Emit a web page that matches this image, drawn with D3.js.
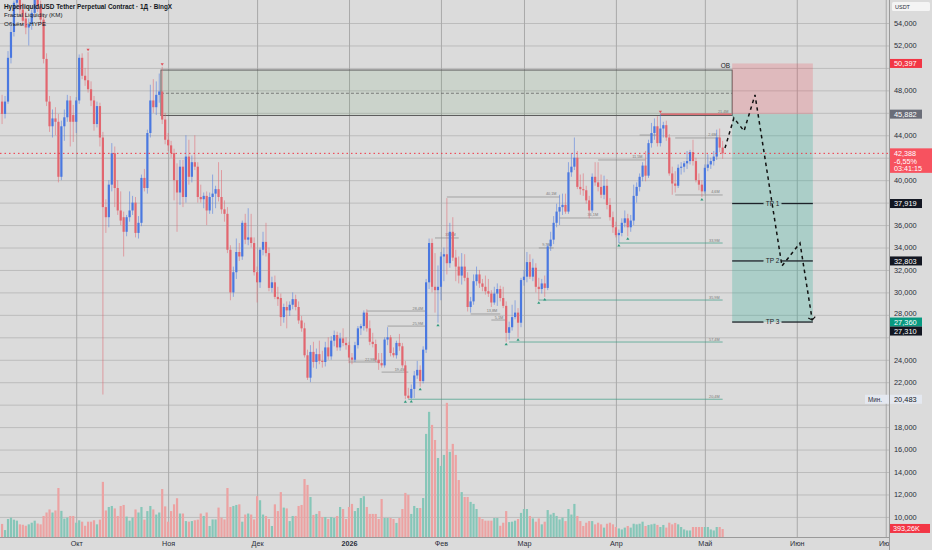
<!DOCTYPE html>
<html>
<head>
<meta charset="utf-8">
<script src="https://cdn.jsdelivr.net/npm/d3@7"></script>
<style>
  body { margin: 0; background: #dbdbdb; }
  svg { display: block; font-family: "Liberation Sans", Arial, sans-serif; }
</style>
</head>
<body>
<script>
// daily candles, prices in thousands USDT, volume in millions: [open, high, low, close, volume]
var sepCandles = [ // from 2025-09-06
  [47.0,47.6,45.0,45.9,0.64],[45.9,47.5,45.5,47.0,0.34],[47.0,51.5,46.8,50.9,0.88],[50.9,53.9,50.4,53.2,0.95],
  [53.2,56.0,52.8,55.8,0.85],[55.8,57.2,55.2,56.5,0.8],[56.5,57.0,54.8,55.2,0.62],[55.2,55.8,53.8,54.2,0.6],
  [54.4,55.0,53.0,53.6,0.55],[53.6,54.4,52.0,53.9,0.62],[53.9,55.2,53.4,54.9,0.7],[54.9,56.8,54.5,56.3,0.8],
  [56.3,57.0,55.0,55.5,0.66],[55.5,56.0,53.9,54.3,0.62],[54.3,54.8,50.4,50.8,1.03],[50.8,51.3,46.6,47.0,1.2],
  [47.0,47.5,44.3,44.8,1.35],[44.8,46.3,43.8,45.5,1.2],[45.5,46.5,44.0,45.2,1.3],[45.2,45.9,39.8,40.3,2.4],
  [40.3,45.3,40.0,44.8,1.28],[44.8,46.3,43.5,45.6,0.9],[45.6,47.6,45.2,47.1,0.95],[47.1,47.5,43.0,45.2,1.03],
  [45.8,46.7,43.4,45.2,1.03]
];
var octCandles = [
  [45.2,47.4,44.2,47.1,0.7],[47.1,51.2,46.8,50.9,0.82],[50.9,51.3,49.0,49.3,0.75],[49.3,50.0,48.4,48.9,0.55],
  [48.9,51.4,47.8,48.1,0.75],[48.1,48.8,46.6,47.1,0.75],[47.1,47.5,44.4,45.0,0.82],[45.0,47.0,44.7,46.6,0.62],
  [46.6,46.9,43.0,43.8,0.85],[43.8,44.3,20.9,37.6,2.7],[37.6,38.3,35.3,36.7,1.3],[36.7,40.0,35.8,39.6,1.47],
  [39.6,43.3,39.0,42.4,1.52],[42.4,43.0,37.6,39.3,1.4],[39.3,40.0,36.9,37.3,1.03],[37.3,39.0,36.0,36.4,1.52],
  [36.7,37.2,33.2,35.4,1.57],[35.4,36.9,35.0,36.7,1.0],[36.7,39.0,36.3,37.3,0.8],[37.3,38.6,36.9,38.0,0.95],
  [38.0,38.5,34.9,35.3,1.35],[35.3,36.8,34.8,36.2,1.2],[36.2,40.5,35.9,40.2,1.47],[40.2,41.0,39.0,39.3,0.85],
  [39.3,44.5,38.8,44.2,1.27],[44.2,48.5,43.8,47.1,1.52],[47.1,49.0,46.0,46.5,1.35],[46.5,48.8,45.8,47.6,1.1],
  [47.6,49.5,46.9,47.9,1.2],[47.9,50.1,45.0,45.4,2.35],[45.4,46.0,43.2,43.6,1.5]
];
var novCandles = [
  [43.6,44.2,42.6,43.1,0.75],[43.1,43.5,42.0,42.4,1.27],[42.4,42.8,38.2,40.0,1.6],[40.0,41.5,35.4,38.9,1.9],
  [38.9,41.8,37.8,41.2,1.15],[41.2,41.8,37.6,38.5,1.15],[38.5,44.0,38.0,42.1,0.78],[42.1,43.6,39.6,40.3,0.75],
  [40.3,42.2,39.8,41.6,0.78],[41.6,44.0,40.9,41.2,0.82],[41.2,41.6,38.0,38.5,0.85],[38.5,39.6,38.0,38.3,1.15],
  [38.3,38.9,37.5,38.6,1.03],[38.6,39.0,36.0,37.3,1.2],[37.3,38.9,37.0,38.5,0.54],[38.5,40.5,37.0,38.8,0.86],
  [38.8,39.5,37.5,39.2,0.86],[39.2,41.6,38.1,38.5,1.44],[38.5,40.9,37.0,37.4,0.95],[37.4,38.2,36.3,37.0,0.86],
  [37.0,37.6,33.5,33.8,2.4],[33.8,34.2,29.3,30.0,1.47],[30.0,32.3,29.6,31.8,1.52],[31.8,34.8,31.2,33.6,1.57],
  [33.6,34.4,32.8,33.2,1.6],[33.2,36.4,32.9,36.2,0.75],[36.2,37.0,34.3,34.7,1.1],[34.7,37.5,34.2,34.9,1.15],
  [34.9,37.0,34.0,34.4,1.1],[34.4,34.9,31.5,31.8,0.86]
];
var decCandles = [
  [31.8,32.3,29.1,30.9,2.0],[30.9,34.0,30.4,33.8,1.8],[33.8,35.4,33.3,34.5,1.1],[34.5,36.2,33.2,33.5,1.03],
  [33.5,34.0,30.1,30.4,0.88],[30.4,31.4,30.0,30.9,0.54],[30.9,31.5,29.4,29.6,1.6],[29.6,30.5,28.8,29.4,1.27],
  [29.5,29.9,27.0,27.8,2.2],[27.8,29.0,27.3,28.7,1.44],[28.7,29.2,26.8,28.4,1.4],[28.4,29.2,27.9,28.9,0.78],
  [28.9,30.0,28.5,29.4,1.03],[29.4,29.8,28.4,28.7,1.03],[28.7,29.2,27.2,27.5,1.52],[27.5,27.9,26.5,26.8,1.57],
  [26.8,27.3,24.2,24.4,2.84],[24.4,24.9,22.2,22.4,2.55],[22.4,25.3,22.0,24.7,1.96],[24.7,25.6,23.3,23.8,1.08],
  [23.8,25.0,23.2,24.5,1.13],[24.5,25.7,23.6,23.9,1.27],[23.9,24.8,23.3,23.8,0.98],[23.8,25.6,23.4,25.1,0.98],
  [25.1,26.0,24.0,24.3,0.88],[24.3,26.1,24.0,25.7,0.98],[25.7,26.6,25.2,26.2,0.93],[26.2,26.5,24.8,25.1,1.03],
  [25.1,26.4,24.8,25.9,1.47],[25.9,26.8,25.2,25.5,1.37],[25.5,26.0,24.9,25.3,0.88]
];
var janCandles = [
  [25.3,25.6,23.7,24.2,1.47],[24.2,24.6,23.6,24.0,1.62],[24.0,25.6,23.8,25.3,1.27],[25.3,27.0,25.0,26.8,1.42],
  [26.8,27.2,26.2,27.0,1.91],[27.0,28.4,26.6,28.2,2.0],[28.2,28.5,26.5,26.8,1.47],[26.8,27.5,25.3,25.6,1.13],
  [25.6,26.4,25.1,25.4,1.13],[25.4,25.8,23.8,24.0,1.13],[24.0,24.6,23.1,23.7,0.88],[23.7,24.6,23.3,23.5,1.86],
  [23.5,26.0,23.3,25.8,0.93],[25.8,26.9,25.3,26.0,0.93],[26.0,26.2,24.3,24.6,0.93],[24.6,25.1,24.2,24.4,0.88],
  [24.4,25.7,24.1,25.5,0.69],[25.5,26.3,24.8,25.2,0.93],[25.2,25.5,23.3,23.5,1.37],[23.5,23.9,20.483,20.8,2.16],
  [20.8,21.5,20.5,20.6,2.06],[20.6,21.8,20.5,21.4,1.13],[21.4,23.0,20.6,22.6,1.52],[22.6,23.9,22.3,23.1,1.42],
  [23.1,23.5,21.6,22.1,1.42],[22.1,25.2,21.9,24.9,1.91],[24.9,31.2,24.6,30.9,5.05],[30.9,34.8,30.3,34.4,6.13],
  [34.4,34.8,30.0,30.5,5.49],[30.5,33.5,28.2,30.2,4.75],[30.2,32.4,27.3,30.5,3.87]
];
var febCandles = [
  [30.5,33.6,29.3,33.2,3.48],[33.2,34.0,31.0,33.4,4.02],[33.4,38.4,31.6,32.6,6.57],[32.6,36.2,32.2,35.4,4.17],
  [35.4,36.7,32.8,33.1,4.56],[33.1,33.8,31.0,32.3,4.02],[32.3,33.2,30.8,31.5,2.79],[31.5,33.5,30.7,32.3,2.2],
  [32.3,33.4,31.0,31.3,1.96],[31.3,31.8,28.3,28.7,1.96],[28.7,29.6,28.2,29.2,1.72],[29.2,31.6,28.9,31.0,1.62],
  [31.0,32.3,30.6,31.6,1.37],[31.6,32.0,30.4,30.8,0.98],[30.8,31.2,30.1,30.5,0.88],[30.5,31.5,29.8,30.1,0.8],
  [30.1,31.2,29.6,29.9,0.8],[29.9,30.2,28.7,29.1,0.8],[29.1,30.5,28.9,29.9,0.93],[29.9,30.8,28.8,30.3,0.93],
  [30.3,30.6,29.2,29.5,0.55],[29.5,30.5,28.6,28.8,0.7],[28.8,29.2,25.6,26.4,1.27],[26.4,27.4,25.8,26.9,0.73],
  [26.9,28.9,26.6,27.8,0.75],[27.8,29.3,27.6,28.2,0.8],[28.2,28.6,26.0,27.3,0.88],[27.3,31.3,26.9,31.1,1.18]
];
var marCandles = [
  [31.1,32.0,30.6,31.4,1.37],[31.4,33.6,30.9,32.7,1.37],[32.7,33.4,31.2,31.4,1.03],[31.4,33.0,31.0,32.2,0.91],
  [32.2,32.6,30.0,30.5,0.75],[30.5,31.3,29.3,30.3,0.91],[30.3,31.2,29.9,30.8,0.62],[30.8,31.5,29.6,30.4,0.75],
  [30.4,34.3,30.2,34.1,1.32],[34.1,35.4,33.7,34.7,1.1],[34.7,36.8,34.3,36.2,1.18],[36.2,37.9,35.8,37.2,1.03],
  [37.2,38.7,36.0,37.6,0.86],[37.6,38.8,36.9,37.8,0.95],[37.8,38.8,37.0,37.2,0.78],[37.2,41.6,37.0,40.7,1.37],
  [40.7,42.4,40.3,41.2,1.1],[41.2,43.8,40.9,42.0,1.62],[42.0,42.6,39.2,39.4,1.03],[39.4,40.5,38.7,39.2,0.78],
  [39.2,40.6,38.6,39.1,0.54],[39.1,39.5,37.9,38.2,0.7],[38.2,38.6,36.6,37.3,0.78],[37.3,40.6,37.1,40.3,0.78],
  [40.3,41.6,39.5,39.8,0.62],[39.8,41.6,39.0,39.4,0.7],[39.4,40.5,38.4,38.7,0.62],[38.7,40.4,38.3,39.5,0.46],
  [39.5,40.1,37.4,37.8,0.65],[37.8,38.4,36.4,36.7,0.7],[36.7,37.2,35.3,35.8,0.62]
];
var aprCandles = [
  [35.8,36.3,34.9,35.1,0.49],[35.1,35.6,34.4,35.3,0.42],[35.3,36.6,35.0,36.2,0.37],[36.2,37.3,35.8,36.6,0.46],
  [36.6,37.0,35.0,35.8,0.54],[35.8,36.9,35.4,36.4,0.46],[36.4,39.6,36.0,38.6,0.65],[38.6,39.8,38.0,39.4,0.62],
  [39.4,40.6,39.0,40.3,0.65],[40.3,41.6,39.9,41.3,0.75],[41.3,42.6,39.9,40.4,0.54],[40.4,43.6,40.2,43.3,0.59],
  [43.3,45.1,42.9,44.2,0.62],[44.2,45.5,43.6,44.8,0.65],[44.8,45.7,43.0,43.3,0.59],[43.3,45.882,43.0,44.6,0.49],
  [44.6,45.2,43.8,44.9,0.59],[44.9,45.3,43.5,43.8,0.46],[43.8,44.1,40.4,40.6,0.7],[40.6,41.2,38.7,39.7,0.62],
  [39.7,40.8,38.9,39.5,0.69],[39.5,41.4,39.3,41.1,0.62],[41.1,41.6,40.5,41.2,0.49],[41.2,41.7,40.7,41.5,0.37],
  [41.5,42.6,41.0,41.7,0.32],[41.7,42.7,41.4,42.5,0.32],[42.5,43.6,41.3,41.7,0.49],[41.7,42.0,39.8,40.0,0.49],
  [40.0,40.6,39.1,39.6,0.49],[39.6,40.0,38.5,39.0,0.49]
];
var mayCandles = [
  [39.0,41.4,38.8,41.1,0.49],[41.1,42.3,40.8,41.4,0.49],[41.4,42.0,41.0,41.7,0.37],[41.7,42.6,41.3,42.1,0.32],
  [42.1,44.5,41.8,43.8,0.49],[43.8,44.6,42.5,42.9,0.49],[42.9,43.5,41.9,42.388,0.39]
];
var monthStarts = ["2025-09-06","2025-10-01","2025-11-01","2025-12-01","2026-01-01","2026-02-01","2026-03-01","2026-04-01","2026-05-01"];
var monthRows = [sepCandles, octCandles, novCandles, decCandles, janCandles, febCandles, marCandles, aprCandles, mayCandles];

var monthNames = ["Янв","Фев","Мар","Апр","Май","Июн","Июл","Авг","Сен","Окт","Ноя","Дек"];
var priceTicks = d3.range(10, 56, 2);

// drawings
var obSpan = ["2025-10-29T14:00Z", "2026-05-10T05:00Z"];
var obLevels = [49.81, 47.74, 45.76];
var tradeSpan = ["2026-05-10T05:00Z", "2026-06-06T10:00Z"];
var tradeLevels = [50.397, 45.882, 27.36];
var tpLevels = [37.919, 32.803, 27.36];
var tpNames = ["TP 1", "TP 2", "TP 3"];
var pathDates = ["2026-05-07T19:00Z","2026-05-10T19:00Z","2026-05-14T05:00Z","2026-05-17T22:00Z","2026-05-27T00:00Z","2026-06-02T02:00Z","2026-06-06T05:00Z"];
var pathPrices = [42.86, 45.54, 44.38, 47.59, 32.35, 34.40, 27.54];
var lastPrice = 42.388;
var lastPriceText = ["42,388", "-6,55%", "03:41:15"];

// fractal liquidity levels: [from, to, price, label, low?]
var liqLevels = [
  ["2026-04-16", "2026-05-10", 45.88, "21,4М", 0],
  ["2026-04-09", "2026-04-15", 44.02, "", 0],
  ["2026-04-21", "2026-05-06", 43.76, "2,6М", 0],
  ["2026-03-26", "2026-04-11", 41.8, "11,5М", 0],
  ["2026-04-21", "2026-05-07", 38.68, "4,6М", 0],
  ["2026-02-03", "2026-03-13", 38.5, "40,1М", 0],
  ["2026-03-13", "2026-03-27", 36.63, "36,1М", 0],
  ["2026-04-02", "2026-05-07", 34.4, "33,9М", 1],
  ["2026-01-30", "2026-02-07", 34.85, "33,3М", 0],
  ["2026-03-06", "2026-03-11", 33.96, "9,7М", 0],
  ["2026-03-06", "2026-05-07", 29.32, "35,9М", 1],
  ["2026-01-07", "2026-01-27", 28.34, "28,4М", 0],
  ["2026-02-11", "2026-02-21", 28.08, "13,8М", 0],
  ["2026-02-18", "2026-02-23", 27.54, "5,1М", 0],
  ["2026-01-14", "2026-01-27", 27.0, "25,9М", 0],
  ["2026-02-24", "2026-05-07", 25.58, "57,4М", 1],
  ["2026-01-01", "2026-01-11", 23.8, "22,9М", 0],
  ["2026-01-12", "2026-01-21", 22.9, "19,4М", 0],
  ["2026-01-21", "2026-05-07", 20.483, "20,4М", 1]
];
var fractalHighs = [["2025-10-05", 51.4], ["2025-10-30", 50.1], ["2026-04-16", 45.882]];
var fractalLows = [["2026-01-20", 20.483], ["2026-01-22", 20.5], ["2026-01-25", 21.6], ["2026-01-31", 27.3],
  ["2026-02-23", 25.6], ["2026-02-27", 26.0], ["2026-03-06", 29.3], ["2026-03-08", 29.6],
  ["2026-04-02", 34.4], ["2026-04-05", 35.0], ["2026-04-30", 38.5]];

// right axis price marks: [price, text, background, text colour]
var axisMarks = [
  [50.397, "50,397", "#f23645", "#fff"],
  [45.882, "45,882", "#6a6d78", "#fff"],
  [37.919, "37,919", "#131722", "#fff"],
  [32.803, "32,803", "#131722", "#fff"],
  [27.36, "27,360", "#089981", "#fff"],
  [27.31, "27,310", "#131722", "#fff"],
  [20.483, "20,483", "#e4e8f0", "#131722"]
];
var lastVolume = 0.39326, lastVolumeText = "393,26K";

// ---------- chart ----------
var width = 932, height = 550, plotW = 889, plotH = 537;
var up = "#4a78e0", down = "#e2666f", upVol = "#86c6b8", downVol = "#eca2a2";

var candles = [];
monthRows.forEach(function(rows, m){
    var s = new Date(monthStarts[m] + "T00:00Z");
    rows.forEach(function(r, i){
        candles.push({date: d3.utcDay.offset(s, i), o: r[0], h: r[1], l: r[2], c: r[3], v: r[4]});
    });
});

var x = d3.scaleUtc()
    .domain([new Date("2025-09-05T07:12Z"), new Date("2026-07-02T02:24Z")])
    .range([0, plotW]);
var y = d3.scaleLinear().domain([8.21, 56.05]).range([plotH, 0]);
var yVol = d3.scaleLinear().domain([0, 26.3]).range([plotH, 0]);
var P = function(s){ return new Date(s.length > 10 ? s : s + "T00:00Z"); };

var svg = d3.select("body").append("svg").attr("width", width).attr("height", height);
svg.append("rect").attr("width", width).attr("height", height).attr("fill", "#dbdbdb");
svg.append("defs").append("clipPath").attr("id", "plot")
    .append("rect").attr("width", plotW).attr("height", plotH);

var plot = svg.append("g").attr("clip-path", "url(#plot)");

// grid
plot.append("g").attr("class", "hgrid")
    .call(d3.axisLeft(y).tickValues(priceTicks).tickSize(-plotW).tickFormat(""))
    .call(function(g){ g.select(".domain").remove(); g.selectAll("line").attr("stroke", "#bcbcbc"); });
plot.append("g").attr("transform", "translate(0," + plotH + ")")
    .call(d3.axisBottom(x).ticks(d3.utcMonth.every(1)).tickSize(-plotH).tickFormat(""))
    .call(function(g){ g.select(".domain").remove(); g.selectAll("line").attr("stroke", "#a9a9a9"); });

// volume
plot.selectAll(".vol").data(candles).enter().append("rect")
    .attr("x", function(d){ return x(d.date) - 1.1; })
    .attr("width", 2.2)
    .attr("y", function(d){ return yVol(d.v); })
    .attr("height", function(d){ return plotH - yVol(d.v); })
    .attr("fill", function(d){ return d.c >= d.o ? upVol : downVol; });

// order block zone
var obX0 = x(P(obSpan[0])), obX1 = x(P(obSpan[1]));
plot.append("rect").attr("x", obX0).attr("y", y(obLevels[0]))
    .attr("width", obX1 - obX0).attr("height", y(obLevels[2]) - y(obLevels[0]))
    .attr("fill", "rgba(90,160,90,0.12)").attr("stroke", "#5d5d5d").attr("stroke-width", 1);
plot.append("line").attr("x1", obX0).attr("x2", obX1)
    .attr("y1", y(obLevels[1])).attr("y2", y(obLevels[1]))
    .attr("stroke", "#666").attr("stroke-dasharray", "3,2").attr("stroke-width", 0.8);
plot.append("text").attr("x", obX1 - 2).attr("y", y(obLevels[0]) - 2.5)
    .attr("text-anchor", "end").attr("font-size", 6.5).attr("fill", "#222").text("OB");

// short position zones
var tX0 = x(P(tradeSpan[0])), tX1 = x(P(tradeSpan[1]));
plot.append("rect").attr("x", tX0).attr("y", y(tradeLevels[0]))
    .attr("width", tX1 - tX0).attr("height", y(tradeLevels[1]) - y(tradeLevels[0]))
    .attr("fill", "rgba(242,54,69,0.2)");
plot.append("rect").attr("x", tX0).attr("y", y(tradeLevels[1]))
    .attr("width", tX1 - tX0).attr("height", y(tradeLevels[2]) - y(tradeLevels[1]))
    .attr("fill", "rgba(34,171,148,0.26)");

// liquidity levels
var liq = plot.selectAll(".liq").data(liqLevels).enter().append("g");
liq.append("line")
    .attr("x1", function(d){ return x(P(d[0])); })
    .attr("x2", function(d){ return x(P(d[1])); })
    .attr("y1", function(d){ return y(d[2]); })
    .attr("y2", function(d){ return y(d[2]); })
    .attr("stroke", function(d, i){ return i === 0 ? "#e0505a" : (d[4] ? "#3f9d86" : "#8a8a8a"); })
    .attr("stroke-width", function(d, i){ return i === 0 ? 1.2 : 0.7; });
liq.append("text")
    .attr("x", function(d){ return x(P(d[1])) - 3; })
    .attr("y", function(d){ return y(d[2]) - 1.5; })
    .attr("text-anchor", "end").attr("font-size", 3.8).attr("fill", "#7a7a7a")
    .text(function(d){ return d[3]; });

// candles
var cg = plot.selectAll(".candle").data(candles).enter().append("g");
cg.append("line")
    .attr("x1", function(d){ return x(d.date); })
    .attr("x2", function(d){ return x(d.date); })
    .attr("y1", function(d){ return y(d.h); })
    .attr("y2", function(d){ return y(d.l); })
    .attr("stroke", function(d){ return d.c >= d.o ? up : down; })
    .attr("stroke-opacity", 0.6).attr("stroke-width", 0.9);
cg.append("rect")
    .attr("x", function(d){ return x(d.date) - 1.1; })
    .attr("width", 2.2)
    .attr("y", function(d){ return y(Math.max(d.o, d.c)); })
    .attr("height", function(d){ return Math.max(1, Math.abs(y(d.o) - y(d.c))); })
    .attr("fill", function(d){ return d.c >= d.o ? up : down; });

// fractal markers
plot.selectAll(".fh").data(fractalHighs).enter().append("path")
    .attr("d", function(d){ var cx = x(P(d[0])), cy = y(d[1]) - 1; return "M" + (cx - 1.6) + "," + (cy - 2.5) + "h3.2l-1.6,2.5z"; })
    .attr("fill", "#e0505a");
plot.selectAll(".fl").data(fractalLows).enter().append("path")
    .attr("d", function(d){ var cx = x(P(d[0])), cy = y(d[1]) + 1; return "M" + (cx - 1.6) + "," + (cy + 2.5) + "h3.2l-1.6,-2.5z"; })
    .attr("fill", "#2f9a7c");

// last price line
plot.append("line").attr("x1", 0).attr("x2", plotW)
    .attr("y1", y(lastPrice)).attr("y2", y(lastPrice))
    .attr("stroke", "#f23645").attr("stroke-width", 1).attr("stroke-dasharray", "1.5,3");

// take profit lines
var tpMid = (tX0 + tX1) / 2;
tpLevels.forEach(function(p, i){
    var yy = y(p);
    plot.append("line").attr("x1", tX0).attr("x2", tpMid - 9).attr("y1", yy).attr("y2", yy)
        .attr("stroke", "#1e2229").attr("stroke-width", 1.3);
    plot.append("line").attr("x1", tpMid + 9).attr("x2", tX1).attr("y1", yy).attr("y2", yy)
        .attr("stroke", "#1e2229").attr("stroke-width", 1.3);
    plot.append("text").attr("x", tpMid).attr("y", yy + 2.3).attr("text-anchor", "middle")
        .attr("font-size", 6.5).attr("fill", "#1e2229").text(tpNames[i]);
});

// projected path
var pts = pathDates.map(function(s, i){ return [x(P(s)), y(pathPrices[i])]; });
plot.append("path").attr("d", d3.line()(pts))
    .attr("fill", "none").attr("stroke", "#111").attr("stroke-width", 1.5)
    .attr("stroke-dasharray", "3.5,3.5");
var end = pts[pts.length - 1];
plot.append("path")
    .attr("d", "M" + (end[0] - 4) + "," + (end[1] - 2) + "L" + end[0] + "," + end[1] + "L" + (end[0] + 3) + "," + (end[1] - 3.5))
    .attr("fill", "none").attr("stroke", "#111").attr("stroke-width", 1.2);

// legend
var legend = svg.append("g").attr("fill", "#131722");
legend.append("text").attr("x", 4).attr("y", 8.5).attr("font-size", 6.4).attr("font-weight", "bold")
    .text("Hyperliquid/USD Tether Perpetual Contract · 1Д · BingX");
legend.append("text").attr("x", 4).attr("y", 17).attr("font-size", 6.2).text("Fractal Liquidity (KM)");
legend.append("text").attr("x", 4).attr("y", 25.5).attr("font-size", 6.2).text("Объём · HYPE");

// right price axis
svg.append("line").attr("x1", plotW + 0.5).attr("x2", plotW + 0.5).attr("y1", 0).attr("y2", height)
    .attr("stroke", "#9a9a9a");
svg.append("line").attr("x1", 0).attr("x2", plotW).attr("y1", plotH + 0.5).attr("y2", plotH + 0.5)
    .attr("stroke", "#9a9a9a");

// positions of the tags on the axis, pushed apart when they overlap
var marks = axisMarks.map(function(m){ return {y: y(m[0]), text: m[1], bg: m[2], fg: m[3]}; })
    .sort(function(a, b){ return a.y - b.y; });
for (var i = 1; i < marks.length; i++) {
    if (marks[i].y - marks[i - 1].y < 9) marks[i].y = marks[i - 1].y + 9;
}
var yLast = y(lastPrice);
var yV = yVol(lastVolume) - 0.5;
var covered = function(v){
    var ty = y(v);
    if (ty > yLast - 9 && ty < yLast + 23) return true;
    if (Math.abs(ty - yV) < 7) return true;
    return marks.some(function(m){ return Math.abs(ty - m.y) < 7; });
};
// a tick just above a tag is lifted a little so the two do not touch
var lift = function(v){
    var ty = y(v);
    return marks.some(function(m){ return m.y - ty > 0 && m.y - ty < 9.5; }) ? -2.2 : 0;
};

svg.append("g").attr("transform", "translate(" + plotW + ",0)")
    .call(d3.axisRight(y).tickValues(priceTicks.filter(function(v){ return !covered(v); }))
        .tickSize(0).tickPadding(5)
        .tickFormat(function(v){ return d3.format(",")(v * 1000); }))
    .call(function(g){
        g.select(".domain").remove();
        g.selectAll("text").attr("font-size", 7.4).attr("fill", "#2a2e39")
            .attr("font-family", "Liberation Sans, Arial, sans-serif")
            .attr("y", function(v){ return lift(v); });
    });

// bottom time axis
svg.append("defs").append("clipPath").attr("id", "xaxis")
    .append("rect").attr("width", plotW).attr("height", height);
svg.append("g").attr("clip-path", "url(#xaxis)")
  .append("g").attr("transform", "translate(0," + plotH + ")")
    .call(d3.axisBottom(x).ticks(d3.utcMonth.every(1)).tickSize(0).tickPadding(3.5)
        .tickFormat(function(d){ return d.getUTCMonth() === 0 ? String(d.getUTCFullYear()) : monthNames[d.getUTCMonth()]; }))
    .call(function(g){
        g.select(".domain").remove();
        g.selectAll("text").attr("font-size", 7.2).attr("fill", "#2a2e39")
            .attr("font-family", "Liberation Sans, Arial, sans-serif")
            .attr("font-weight", function(d){ return d.getUTCMonth() === 0 ? "bold" : null; });
    });

// USDT badge
svg.append("rect").attr("x", 892).attr("y", 2).attr("width", 38).attr("height", 9).attr("rx", 1.5).attr("fill", "#f4f4f4");
svg.append("text").attr("x", 895).attr("y", 9).attr("font-size", 5.5).attr("fill", "#2a2e39").text("USDT");

marks.forEach(function(m){
    svg.append("rect").attr("x", plotW + 1).attr("y", m.y - 4.5).attr("width", 32).attr("height", 9).attr("fill", m.bg);
    svg.append("text").attr("x", plotW + 5).attr("y", m.y + 2.6).attr("font-size", 7.4).attr("fill", m.fg).text(m.text);
});
// minimum tag
var yMin = y(axisMarks[6][0]);
svg.append("rect").attr("x", 865).attr("y", yMin - 4.5).attr("width", 24).attr("height", 9).attr("fill", "#e4e8f0");
svg.append("text").attr("x", 868).attr("y", yMin + 2.4).attr("font-size", 6.3).attr("fill", "#2a2e39").text("Мин.");

// last price tag
svg.append("rect").attr("x", plotW + 1).attr("y", yLast - 5).attr("width", 42).attr("height", 24.5).attr("fill", "#f7525f");
lastPriceText.forEach(function(t, i){
    svg.append("text").attr("x", plotW + 5).attr("y", yLast + 2.6 + i * 7.6).attr("font-size", 7.2).attr("fill", "#fff").text(t);
});

// last volume tag
svg.append("rect").attr("x", plotW + 1).attr("y", yV - 4.5).attr("width", 40).attr("height", 9).attr("fill", "#f23645");
svg.append("text").attr("x", plotW + 4).attr("y", yV + 2.6).attr("font-size", 7.2).attr("fill", "#fff").text(lastVolumeText);
</script>
</body>
</html>
